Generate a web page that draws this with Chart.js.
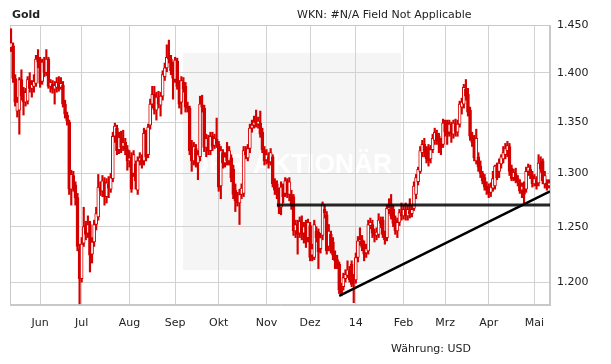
<!DOCTYPE html>
<html>
<head>
<meta charset="utf-8">
<script src="https://cdn.jsdelivr.net/npm/chart.js@4"></script>
<style>
  html, body { margin: 0; padding: 0; background: #fff; }
  #wrap { position: relative; width: 611px; height: 364px; font-family: 'DejaVu Sans', sans-serif; color: #222; }
  #gold { position: absolute; left: 12px; top: 8px; font-size: 11px; font-weight: bold; }
  #wkn { position: absolute; left: 297px; top: 8px; font-size: 11px; }
  #ccy { position: absolute; left: 391px; top: 342px; font-size: 11px; }
  canvas { position: absolute; left: 0; top: 0; }
</style>
</head>
<body>
<div id="wrap">
  <canvas id="chart" width="611" height="364"></canvas>
  <div id="gold">Gold</div>
  <div id="wkn">WKN: #N/A Field Not Applicable</div>
  <div id="ccy">Währung: USD</div>
</div>
<script>
// daily bars, mid May 2013 .. mid May 2014 (index = trading day)
const opens = [
  1426,1428,1394,1361,1362,1393,1381,1370,1371,1392,1384,1386,1389,1414,1413,1391,1411,1400,1414,1386,
  1388,1383,1385,1389,1385,1387,1368,1357,1350,1285,1298,1289,1277,1230,1203,1235,1251,1244,1252,1225,
  1236,1252,1259,1287,1283,1292,1278,1290,1285,1295,1336,1344,1323,1334,1326,1330,1323,1312,1316,1300,
  1309,1284,1312,1314,1312,1338,1318,1347,1368,1378,1362,1374,1367,1376,1396,1405,1415,1414,1407,1393,
  1412,1386,1370,1390,1386,1366,1364,1325,1312,1324,1310,1316,1367,1364,1325,1333,1322,1336,1327,1333,
  1328,1288,1320,1310,1316,1312,1315,1304,1284,1276,1272,1280,1281,1321,1315,1324,1344,1347,1350,1348,
  1349,1340,1322,1313,1316,1311,1316,1292,1290,1282,1268,1286,1281,1292,1280,1280,1278,1246,1252,1244,
  1254,1244,1250,1240,1251,1224,1222,1246,1245,1230,1242,1266,1261,1232,1243,1236,1224,1220,1216,1195,
  1196,1203,1206,1210,1216,1203,1202,1222,1237,1238,1234,1226,1228,1251,1252,1245,1242,1243,1255,1256,
  1243,1240,1266,1268,1266,1256,1246,1254,1262,1260,1266,1260,1265,1262,1267,1280,1292,1302,1320,1328,
  1322,1325,1314,1323,1332,1339,1336,1330,1328,1348,1350,1340,1347,1338,1348,1340,1348,1365,1368,1383,
  1378,1362,1336,1334,1312,1316,1307,1300,1296,1288,1284,1282,1286,1288,1306,1302,1309,1314,1318,1322,
  1326,1305,1296,1300,1295,1291,1284,1289,1285,1302,1304,1298,1290,1294,1291,1310,1312,1290,1291,1288
];
const highs = [
  1446,1431,1398,1375,1395,1403,1385,1384,1396,1400,1392,1398,1418,1424,1416,1414,1416,1424,1416,1393,
  1392,1391,1395,1396,1395,1391,1372,1360,1352,1303,1302,1292,1281,1234,1240,1268,1255,1260,1255,1240,
  1256,1268,1299,1292,1298,1296,1295,1297,1300,1340,1349,1347,1340,1341,1342,1334,1327,1322,1320,1322,
  1312,1316,1320,1318,1344,1342,1348,1373,1386,1386,1380,1381,1380,1402,1410,1429,1434,1418,1411,1416,
  1415,1392,1396,1395,1390,1370,1366,1332,1330,1328,1322,1376,1377,1367,1338,1337,1340,1340,1338,1354,
  1331,1326,1323,1320,1330,1326,1318,1308,1290,1282,1285,1290,1326,1326,1328,1348,1352,1356,1362,1355,
  1361,1344,1326,1323,1320,1324,1318,1295,1293,1286,1292,1290,1296,1295,1296,1284,1280,1256,1256,1259,
  1260,1254,1256,1257,1254,1234,1256,1250,1248,1244,1273,1270,1264,1252,1246,1240,1228,1224,1218,1199,
  1208,1211,1219,1214,1219,1207,1226,1241,1249,1242,1237,1234,1256,1258,1256,1248,1249,1262,1259,1259,
  1246,1270,1276,1280,1270,1260,1258,1266,1272,1270,1272,1270,1276,1270,1292,1299,1306,1326,1332,1334,
  1326,1328,1327,1338,1344,1342,1339,1334,1353,1352,1352,1352,1350,1352,1353,1352,1371,1374,1388,1393,
  1384,1365,1340,1337,1343,1320,1312,1302,1299,1292,1290,1291,1302,1308,1310,1314,1318,1326,1329,1331,
  1329,1308,1304,1305,1298,1294,1291,1292,1306,1309,1308,1302,1299,1297,1318,1316,1314,1302,1294,1294
];
const lows = [
  1422,1390,1366,1355,1338,1372,1357,1366,1368,1380,1375,1380,1386,1405,1385,1388,1396,1397,1384,1380,
  1379,1368,1380,1381,1383,1365,1354,1347,1280,1270,1283,1270,1228,1181,1200,1232,1238,1240,1209,1217,
  1232,1247,1256,1279,1278,1270,1272,1277,1282,1292,1330,1318,1319,1320,1322,1318,1303,1306,1282,1297,
  1285,1280,1308,1305,1308,1312,1315,1343,1364,1358,1352,1364,1356,1372,1392,1401,1410,1398,1373,1390,
  1383,1364,1358,1380,1360,1360,1318,1302,1308,1306,1294,1312,1360,1321,1316,1318,1318,1322,1324,1325,
  1283,1276,1305,1306,1308,1308,1292,1276,1264,1269,1252,1276,1278,1314,1312,1320,1340,1344,1345,1344,
  1335,1320,1308,1309,1305,1308,1287,1280,1276,1262,1261,1272,1278,1277,1274,1266,1242,1240,1225,1240,
  1238,1235,1231,1236,1219,1219,1220,1236,1212,1226,1238,1258,1225,1228,1226,1220,1212,1212,1190,1188,
  1193,1200,1204,1200,1196,1182,1199,1218,1233,1228,1219,1222,1225,1248,1240,1236,1238,1240,1249,1240,
  1234,1237,1262,1257,1250,1243,1240,1251,1256,1257,1256,1256,1258,1259,1265,1276,1289,1300,1316,1316,
  1310,1307,1310,1320,1328,1328,1320,1318,1325,1336,1328,1336,1330,1334,1336,1336,1345,1358,1364,1372,
  1356,1332,1326,1312,1309,1302,1296,1290,1284,1280,1277,1278,1283,1285,1294,1296,1305,1310,1314,1316,
  1298,1293,1293,1291,1288,1281,1277,1272,1282,1298,1295,1287,1288,1285,1288,1301,1290,1286,1284,1286
];
const closes = [
  1431,1394,1370,1370,1393,1376,1370,1380,1393,1384,1388,1391,1414,1411,1389,1411,1400,1414,1386,1390,
  1383,1387,1390,1384,1389,1368,1358,1351,1285,1299,1286,1277,1232,1203,1234,1250,1243,1252,1224,1236,
  1252,1262,1287,1283,1293,1278,1291,1286,1296,1336,1346,1322,1335,1325,1330,1323,1312,1315,1285,1318,
  1293,1312,1315,1310,1339,1316,1345,1368,1378,1362,1375,1368,1376,1398,1405,1416,1414,1402,1394,1413,
  1386,1368,1392,1383,1365,1364,1322,1312,1326,1310,1318,1368,1365,1325,1334,1322,1336,1326,1334,1328,
  1287,1322,1310,1316,1312,1322,1296,1280,1274,1272,1280,1286,1322,1318,1324,1344,1347,1350,1348,1351,
  1338,1323,1312,1318,1310,1320,1290,1284,1280,1268,1287,1278,1293,1280,1292,1270,1246,1252,1243,1255,
  1243,1250,1240,1254,1222,1230,1252,1240,1227,1240,1271,1263,1228,1246,1232,1224,1219,1215,1193,1190,
  1204,1207,1211,1202,1198,1202,1222,1237,1238,1231,1225,1230,1252,1254,1244,1242,1245,1256,1253,1243,
  1238,1267,1268,1260,1253,1246,1254,1263,1260,1266,1260,1266,1262,1266,1288,1296,1304,1322,1328,1322,
  1314,1312,1323,1334,1340,1332,1330,1326,1349,1340,1338,1348,1338,1349,1340,1348,1368,1370,1385,1376,
  1360,1336,1330,1315,1334,1306,1300,1293,1287,1284,1281,1287,1295,1307,1296,1310,1316,1320,1324,1327,
  1302,1295,1301,1294,1292,1283,1288,1280,1302,1306,1298,1290,1295,1288,1310,1304,1293,1298,1288,1291
];

// first trading day of each month (bar index) and its label
const monthStarts = [14, 34, 57, 79, 100, 123, 144, 166, 189, 209, 230, 252];
const monthNames = ['Jun', 'Jul', 'Aug', 'Sep', 'Okt', 'Nov', 'Dez', '14', 'Feb', 'Mrz', 'Apr', 'Mai'];
const yTicks = [1200, 1250, 1300, 1350, 1400, 1450];

// drawn lines: support at 1.270 and rising trend from the December low
const supportLevel = 1270;
const supportFrom = 128;
const trendFrom = { x: 158, y: 1188 };
const trendTo = { x: 259.5, y: 1283 };

const red = '#d40000';
const idx = closes.map((c, i) => i);

const bodies = idx.map(i => ({ x: i, y: [opens[i], closes[i]] }));
const wicks = idx.map(i => ({ x: i, y: [lows[i], highs[i]] }));
const bodyFill = idx.map(i => (closes[i] >= opens[i] ? '#ffffff' : red));

const fmt = v => String(v).replace(/(\d)(\d{3})$/, '$1.$2');

const watermark = {
  id: 'watermark',
  beforeDraw(chart) {
    const ctx = chart.ctx;
    ctx.save();
    ctx.fillStyle = '#f5f5f5';
    ctx.fillRect(183, 53, 218, 217);
    ctx.fillStyle = '#ffffff';
    ctx.font = 'bold 28px "Liberation Sans"';
    ctx.textBaseline = 'alphabetic';
    ctx.fillText('DER AKTIONÄR', 190, 173, 202);
    ctx.restore();
  }
};

const frame = {
  id: 'frame',
  beforeDatasetsDraw(chart) {
    const a = chart.chartArea;
    const ctx = chart.ctx;
    ctx.save();
    ctx.strokeStyle = '#c8c8c8';
    ctx.lineWidth = 1;
    ctx.strokeRect(Math.round(a.left) + 0.5, Math.round(a.top) + 0.5,
      Math.round(a.right - a.left) - 1, Math.round(a.bottom - a.top) - 1);
    ctx.restore();
  }
};

const config = {
  type: 'bar',
  data: {
    datasets: [
      {
        type: 'line',
        data: [{ x: supportFrom, y: supportLevel }, { x: 259.5, y: supportLevel }],
        borderColor: 'rgba(0,0,0,0.85)',
        borderWidth: 3,
        pointRadius: 0,
        order: 0,
      },
      {
        type: 'line',
        data: [trendFrom, trendTo],
        borderColor: '#000',
        borderWidth: 2.5,
        pointRadius: 0,
        order: 0,
      },
      {
        data: bodies,
        backgroundColor: bodyFill,
        borderColor: red,
        borderWidth: 1,
        borderSkipped: false,
        barThickness: 3,
        grouped: false,
        order: 1,
      },
      {
        data: wicks,
        backgroundColor: red,
        borderWidth: 0,
        barThickness: 1.5,
        grouped: false,
        order: 2,
      },
    ],
  },
  options: {
    responsive: false,
    animation: false,
    devicePixelRatio: 1,
    layout: { padding: { left: 10, top: 25, right: 0, bottom: 0 } },
    plugins: {
      legend: { display: false },
      tooltip: { enabled: false },
    },
    scales: {
      x: {
        type: 'linear',
        min: -0.5,
        max: 259.5,
        offset: false,
        grid: { color: '#d2d2d2', offset: false, drawTicks: false },
        border: { color: '#c8c8c8' },
        afterBuildTicks(axis) {
          axis.ticks = monthStarts.map(v => ({ value: v }));
        },
        afterFit(axis) {
          axis.height = 59;
        },
        ticks: {
          autoSkip: false,
          maxRotation: 0,
          padding: 12,
          color: '#222',
          font: { family: 'DejaVu Sans', size: 11 },
          callback: v => monthNames[monthStarts.indexOf(v)] ?? '',
        },
      },
      y: {
        type: 'logarithmic',
        position: 'right',
        min: 1180,
        max: 1450,
        grid: { color: '#d2d2d2', drawTicks: false },
        border: { color: '#c8c8c8' },
        afterBuildTicks(axis) {
          axis.ticks = yTicks.map(v => ({ value: v }));
        },
        afterFit(axis) {
          axis.width = 61;
        },
        ticks: {
          padding: 7,
          color: '#222',
          font: { family: 'DejaVu Sans', size: 11 },
          callback: v => fmt(v),
        },
      },
    },
  },
  plugins: [watermark, frame],
};

new Chart(document.getElementById('chart'), config);
</script>
</body>
</html>
